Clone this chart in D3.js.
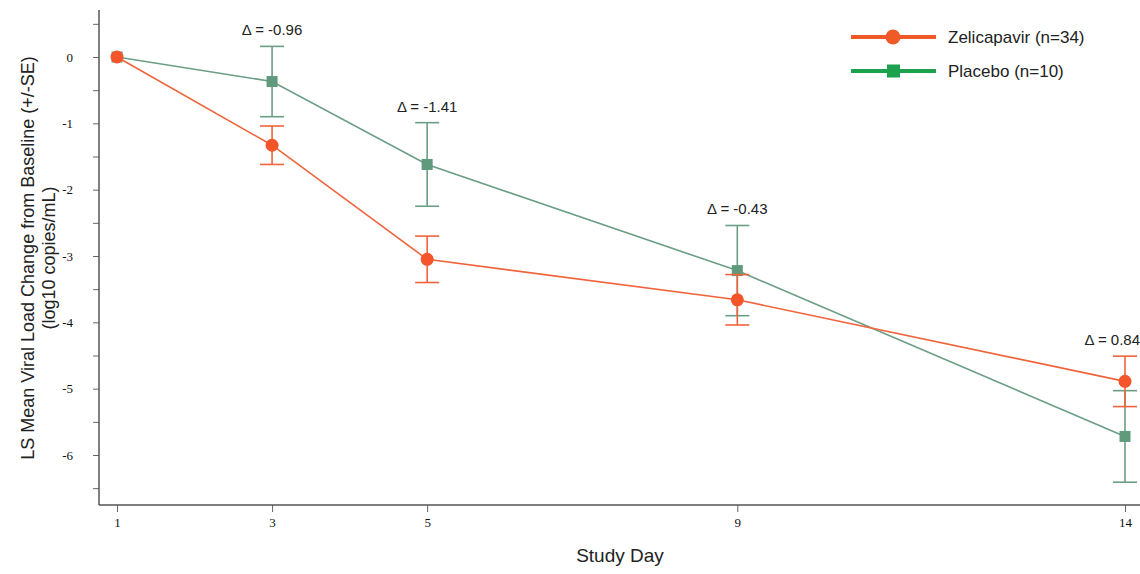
<!DOCTYPE html>
<html>
<head>
<meta charset="utf-8">
<script src="https://cdn.jsdelivr.net/npm/d3@7"></script>
<style>
  body { margin: 0; background: #fff; }
  svg { display: block; font-family: "Liberation Sans", Arial, sans-serif; }
</style>
</head>
<body>
<div id="chart"></div>
<script>
// LS mean viral load change from baseline, by study day
const days = [1, 3, 5, 9, 14];
const zeliMean = [0, -1.33, -3.05, -3.66, -4.89];
const zeliSE = [0, 0.29, 0.35, 0.38, 0.38];
const placMean = [0, -0.37, -1.62, -3.22, -5.72];
const placSE = [0, 0.53, 0.63, 0.68, 0.69];
const deltas = [null, '-0.96', '-1.41', '-0.43', '0.84'];
const yTicks = [0, -1, -2, -3, -4, -5, -6];
const yMinor = [0.5, -0.5, -1.5, -2.5, -3.5, -4.5, -5.5, -6.5];

const width = 1140, height = 574;
const orange = '#f0643c', green = '#6b9e84';

const x = d3.scaleLinear().domain([1, 14]).range([117, 1125]);
const y = d3.scaleLinear().domain([0, -6]).range([57, 455]);
const axisX = 99, axisY = 505;

const svg = d3.select('#chart').append('svg')
  .attr('width', width).attr('height', height);

// y axis
const yAx = svg.append('g').attr('transform', `translate(${axisX},0)`)
  .call(d3.axisLeft(y).tickValues(yTicks).tickSize(6).tickPadding(20).tickFormat(d => d));
yAx.select('.domain').remove();
yAx.selectAll('text').attr('font-family', '"Liberation Serif", "Times New Roman", serif')
  .attr('font-size', 13).attr('fill', '#111');
yAx.selectAll('line').attr('stroke', '#666');
svg.append('g').attr('transform', `translate(${axisX},0)`)
  .call(d3.axisLeft(y).tickValues(yMinor).tickSize(6).tickFormat(''))
  .call(g => g.select('.domain').remove())
  .selectAll('line').attr('stroke', '#666');
svg.append('line').attr('x1', axisX).attr('x2', axisX).attr('y1', 10).attr('y2', axisY)
  .attr('stroke', '#555').attr('stroke-width', 1.5);

// x axis
const xAx = svg.append('g').attr('transform', `translate(0,${axisY})`)
  .call(d3.axisBottom(x).tickValues(days).tickSize(7).tickPadding(6).tickFormat(d => d));
xAx.select('.domain').remove();
xAx.selectAll('text').attr('font-family', '"Liberation Serif", "Times New Roman", serif')
  .attr('font-size', 13).attr('fill', '#111');
xAx.selectAll('line').attr('stroke', '#666');
svg.append('line').attr('x1', axisX).attr('x2', width).attr('y1', axisY).attr('y2', axisY)
  .attr('stroke', '#555').attr('stroke-width', 1.5);

// axis titles
svg.append('text').attr('x', 620).attr('y', 562).attr('text-anchor', 'middle')
  .attr('font-size', 19).attr('fill', '#222').text('Study Day');
const yt = svg.append('text').attr('transform', 'translate(34,258) rotate(-90)')
  .attr('text-anchor', 'middle').attr('font-size', 18).attr('fill', '#222');
yt.append('tspan').attr('x', 0).attr('dy', 0).text('LS Mean Viral Load Change from Baseline (+/-SE)');
yt.append('tspan').attr('x', 0).attr('dy', 21).text('(log10 copies/mL)');

function drawSeries(mean, se, color) {
  const pts = days.map((d, i) => ({ d, m: mean[i], s: se[i] }));
  const g = svg.append('g');
  g.append('path').datum(pts)
    .attr('d', d3.line().x(p => x(p.d)).y(p => y(p.m)))
    .attr('fill', 'none').attr('stroke', color).attr('stroke-width', 1.6);
  const eb = g.selectAll('.eb').data(pts.filter(p => p.s > 0)).join('g');
  eb.append('line').attr('x1', p => x(p.d)).attr('x2', p => x(p.d))
    .attr('y1', p => y(p.m + p.s)).attr('y2', p => y(p.m - p.s))
    .attr('stroke', color).attr('stroke-width', 1.6);
  [1, -1].forEach(sg => {
    eb.append('line').attr('x1', p => x(p.d) - 12).attr('x2', p => x(p.d) + 12)
      .attr('y1', p => y(p.m + sg * p.s)).attr('y2', p => y(p.m + sg * p.s))
      .attr('stroke', color).attr('stroke-width', 1.6);
  });
  return { g, pts };
}

const plac = drawSeries(placMean, placSE, green);
const zeli = drawSeries(zeliMean, zeliSE, orange);

zeli.g.selectAll('circle').data(zeli.pts).join('circle')
  .attr('cx', p => x(p.d)).attr('cy', p => y(p.m)).attr('r', 6.5).attr('fill', '#f4552a');
plac.g.selectAll('rect.mk').data(plac.pts).join('rect').attr('class', 'mk')
  .attr('x', p => x(p.d) - 5.5).attr('y', p => y(p.m) - 5.5)
  .attr('width', 11).attr('height', 11).attr('fill', '#5f9a7c');

// delta labels above the higher error bar
svg.selectAll('.delta').data(days.map((d, i) => ({ d, t: deltas[i],
    top: Math.max(zeliMean[i] + zeliSE[i], placMean[i] + placSE[i]) })).filter(o => o.t))
  .join('text').attr('class', 'delta')
  .attr('x', o => o.d === 14 ? width : x(o.d))
  .attr('y', o => y(o.top) - 11)
  .attr('text-anchor', o => o.d === 14 ? 'end' : 'middle')
  .attr('font-size', 15).attr('fill', '#222')
  .text(o => 'Δ = ' + o.t);

// legend
const legend = [
  { name: 'Zelicapavir (n=34)', color: '#f05a28', shape: 'circle' },
  { name: 'Placebo (n=10)', color: '#1ca24c', shape: 'square' }
];
const lg = svg.selectAll('.lg').data(legend).join('g')
  .attr('transform', (d, i) => `translate(851,${37 + i * 34})`);
lg.append('line').attr('x1', 0).attr('x2', 85).attr('stroke', d => d.color).attr('stroke-width', 4);
lg.filter(d => d.shape === 'circle').append('circle').attr('cx', 42).attr('r', 7.5).attr('fill', d => d.color);
lg.filter(d => d.shape === 'square').append('rect').attr('x', 36).attr('y', -6.5)
  .attr('width', 13).attr('height', 13).attr('fill', d => d.color);
lg.append('text').attr('x', 97).attr('dy', '0.35em').attr('font-size', 17).attr('fill', '#222')
  .text(d => d.name);
</script>
</body>
</html>
